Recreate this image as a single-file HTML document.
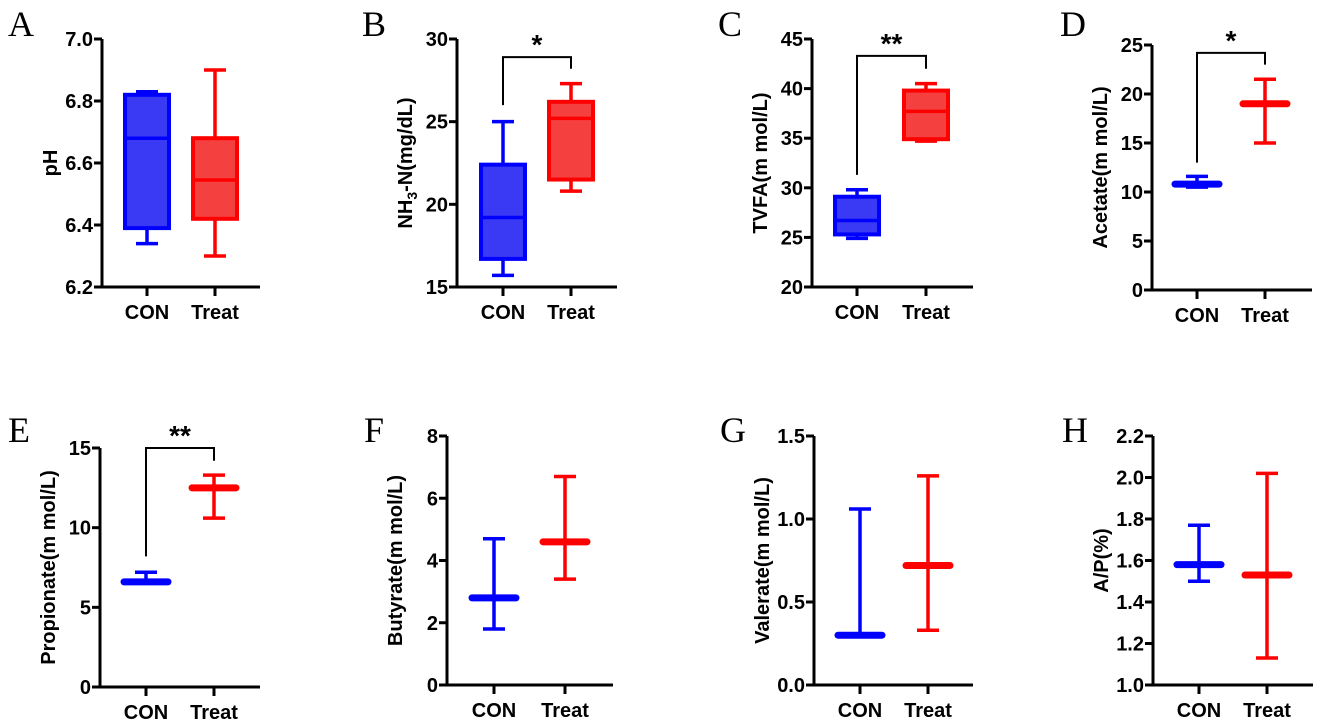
<!DOCTYPE html>
<html><head><meta charset="utf-8"><style>
html,body{margin:0;padding:0;background:#fff;}
svg text{font-family:"Liberation Sans",Arial,sans-serif;font-weight:bold;fill:#000;}
svg text.letter{font-family:"Liberation Serif",serif;font-weight:normal;}
</style></head><body>
<svg id="fig" width="1325" height="723" viewBox="0 0 1325 723" xmlns="http://www.w3.org/2000/svg"></svg>
<script>
const groups = ["CON", "Treat"];
// Box panels: [min, q1, median, q3, max] per group
const boxA_con = [6.34, 6.39, 6.68, 6.82, 6.83];
const boxA_treat = [6.30, 6.42, 6.545, 6.68, 6.90];
const boxB_con = [15.7, 16.7, 19.2, 22.4, 25.0];
const boxB_treat = [20.8, 21.5, 25.2, 26.2, 27.3];
const boxC_con = [24.9, 25.3, 26.7, 29.1, 29.8];
const boxC_treat = [34.7, 34.9, 37.7, 39.8, 40.5];
// Mean/range panels: [low, mean, high]
const barD_con = [10.5, 10.8, 11.6];
const barD_treat = [15.0, 19.0, 21.5];
const barE_con = [6.6, 6.6, 7.2];
const barE_treat = [10.6, 12.5, 13.3];
const barF_con = [1.8, 2.8, 4.7];
const barF_treat = [3.4, 4.6, 6.7];
const barG_con = [0.3, 0.3, 1.06];
const barG_treat = [0.33, 0.72, 1.26];
const barH_con = [1.50, 1.58, 1.77];
const barH_treat = [1.13, 1.53, 2.02];
// Tick labels
const ticksA = ["6.2","6.4","6.6","6.8","7.0"];
const ticksB = ["15","20","25","30"];
const ticksC = ["20","25","30","35","40","45"];
const ticksD = ["0","5","10","15","20","25"];
const ticksE = ["0","5","10","15"];
const ticksF = ["0","2","4","6","8"];
const ticksG = ["0.0","0.5","1.0","1.5"];
const ticksH = ["1.0","1.2","1.4","1.6","1.8","2.0","2.2"];
// significance brackets: [bracketTop, conLegEnd, treatLegEnd]
const sigB = [28.9, 26.0, 28.2];
const sigC = [43.3, 31.3, 42.0];
const sigD = [24.2, 13.0, 23.0];
const sigE = [15.0, 8.2, 14.2];

const panels = [
 {id:"a",letter:"A",lx:8,ly:36,ax:102,top:39,bot:287,right:260,cx:[147,215],ticks:ticksA,title:"pH",type:"box",d:[boxA_con,boxA_treat]},
 {id:"b",letter:"B",lx:362,ly:36,ax:457,top:39,bot:287,right:617,cx:[503,571],ticks:ticksB,title:"NH3",type:"box",d:[boxB_con,boxB_treat],sig:sigB,star:"*"},
 {id:"c",letter:"C",lx:718,ly:36,ax:812,top:39,bot:287,right:973,cx:[857,926],ticks:ticksC,title:"TVFA(m mol/L)",type:"box",d:[boxC_con,boxC_treat],sig:sigC,star:"**"},
 {id:"d",letter:"D",lx:1060,ly:36,ax:1152,top:45,bot:290,right:1312,cx:[1197,1265],ticks:ticksD,title:"Acetate(m mol/L)",type:"bar",d:[barD_con,barD_treat],sig:sigD,star:"*"},
 {id:"e",letter:"E",lx:8,ly:442,ax:100,top:448,bot:687,right:260,cx:[146,214],ticks:ticksE,title:"Propionate(m mol/L)",type:"bar",d:[barE_con,barE_treat],sig:sigE,star:"**"},
 {id:"f",letter:"F",lx:364,ly:442,ax:447,top:436,bot:685,right:613,cx:[494,565],ticks:ticksF,title:"Butyrate(m mol/L)",type:"bar",d:[barF_con,barF_treat]},
 {id:"g",letter:"G",lx:720,ly:442,ax:814,top:436,bot:685,right:973,cx:[860,928],ticks:ticksG,title:"Valerate(m mol/L)",type:"bar",d:[barG_con,barG_treat]},
 {id:"h",letter:"H",lx:1062,ly:442,ax:1153,top:436,bot:685,right:1313,cx:[1199,1267],ticks:ticksH,title:"A/P(%)",type:"bar",d:[barH_con,barH_treat]}
];
const NS="http://www.w3.org/2000/svg";
const svg=document.getElementById("fig");
function mk(tag,attrs,parent,text){const e=document.createElementNS(NS,tag);for(const k in attrs)e.setAttribute(k,attrs[k]);if(text!==undefined)e.textContent=text;parent.appendChild(e);return e;}
const strokeC=["#0000ff","#ff0000"], fillC=["#3a3af5","#f54040"];
panels.forEach(p=>{
  const g=mk("g",{},svg);
  
  
  const vmin=parseFloat(p.ticks[0]), vmax=parseFloat(p.ticks[p.ticks.length-1]);
  const y=v=>p.bot-(v-vmin)/(vmax-vmin)*(p.bot-p.top);
  const L=mk("text",{x:p.lx,y:p.ly,"font-size":36,class:"letter"},g,p.letter);
  
  
  const ya=mk("line",{x1:p.ax,y1:p.top,x2:p.ax,y2:p.bot+1.5,stroke:"#000","stroke-width":3},g);
  
  
  const xa=mk("line",{x1:p.ax-1.5,y1:p.bot,x2:p.right,y2:p.bot,stroke:"#000","stroke-width":3},g);
  
  
  p.ticks.forEach(t=>{
    const yy=y(parseFloat(t));
    mk("line",{x1:p.ax-8,y1:yy,x2:p.ax,y2:yy,stroke:"#000","stroke-width":3},g);
    const tl=mk("text",{x:p.ax-9,y:yy+7,"font-size":20,"text-anchor":"end"},g,t);
    
    
  });
  groups.forEach((gn,i)=>{
    mk("line",{x1:p.cx[i],y1:p.bot,x2:p.cx[i],y2:p.bot+9,stroke:"#000","stroke-width":3},g);
    const cl=mk("text",{x:p.cx[i],y:p.bot+32,"font-size":20,"text-anchor":"middle"},g,gn);
    
    
  });
  const tx=p.ax-52, ty=(p.top+p.bot)/2;
  let tt;
  if(p.title==="NH3"){
    tt=mk("text",{x:tx+7,y:ty,"font-size":20,"text-anchor":"middle",transform:`rotate(-90 ${tx+7} ${ty})`},g);
    mk("tspan",{},tt,"NH");
    mk("tspan",{"font-size":14,dy:5},tt,"3");
    mk("tspan",{dy:-5},tt,"-N(mg/dL)");
  } else {
    tt=mk("text",{x:tx+7,y:ty,"font-size":20,"text-anchor":"middle",transform:`rotate(-90 ${tx+7} ${ty})`},g,p.title);
  }
  
  
  p.d.forEach((v,i)=>{
    const cx=p.cx[i], sc=strokeC[i];
    const mg=mk("g",{},g);
    
    
    if(p.type==="box"){
      const hw=22;
      mk("line",{x1:cx,y1:y(v[0]),x2:cx,y2:y(v[1]),stroke:sc,"stroke-width":3.5},mg);
      mk("line",{x1:cx,y1:y(v[3]),x2:cx,y2:y(v[4]),stroke:sc,"stroke-width":3.5},mg);
      mk("line",{x1:cx-11,y1:y(v[0]),x2:cx+11,y2:y(v[0]),stroke:sc,"stroke-width":3.5},mg);
      mk("line",{x1:cx-11,y1:y(v[4]),x2:cx+11,y2:y(v[4]),stroke:sc,"stroke-width":3.5},mg);
      mk("rect",{x:cx-hw,y:y(v[3]),width:2*hw,height:y(v[1])-y(v[3]),fill:fillC[i],stroke:sc,"stroke-width":4},mg);
      mk("line",{x1:cx-hw,y1:y(v[2]),x2:cx+hw,y2:y(v[2]),stroke:sc,"stroke-width":3.5},mg);
    } else {
      mk("line",{x1:cx,y1:y(v[0]),x2:cx,y2:y(v[2]),stroke:sc,"stroke-width":3.5},mg);
      mk("line",{x1:cx-11,y1:y(v[0]),x2:cx+11,y2:y(v[0]),stroke:sc,"stroke-width":3.5},mg);
      mk("line",{x1:cx-11,y1:y(v[2]),x2:cx+11,y2:y(v[2]),stroke:sc,"stroke-width":3.5},mg);
      mk("line",{x1:cx-22,y1:y(v[1]),x2:cx+22,y2:y(v[1]),stroke:sc,"stroke-width":7,"stroke-linecap":"round"},mg);
    }
  });
  if(p.sig){
    const s=p.sig, yt=y(s[0]);
    const br=mk("polyline",{points:`${p.cx[0]},${y(s[1])} ${p.cx[0]},${yt} ${p.cx[1]},${yt} ${p.cx[1]},${y(s[2])}`,fill:"none",stroke:"#000","stroke-width":2},g);
    
    
    const st=mk("text",{x:(p.cx[0]+p.cx[1])/2,y:yt-3,"font-size":28,"text-anchor":"middle"},g,p.star);
    
    
  }
});
</script>
</body></html>
